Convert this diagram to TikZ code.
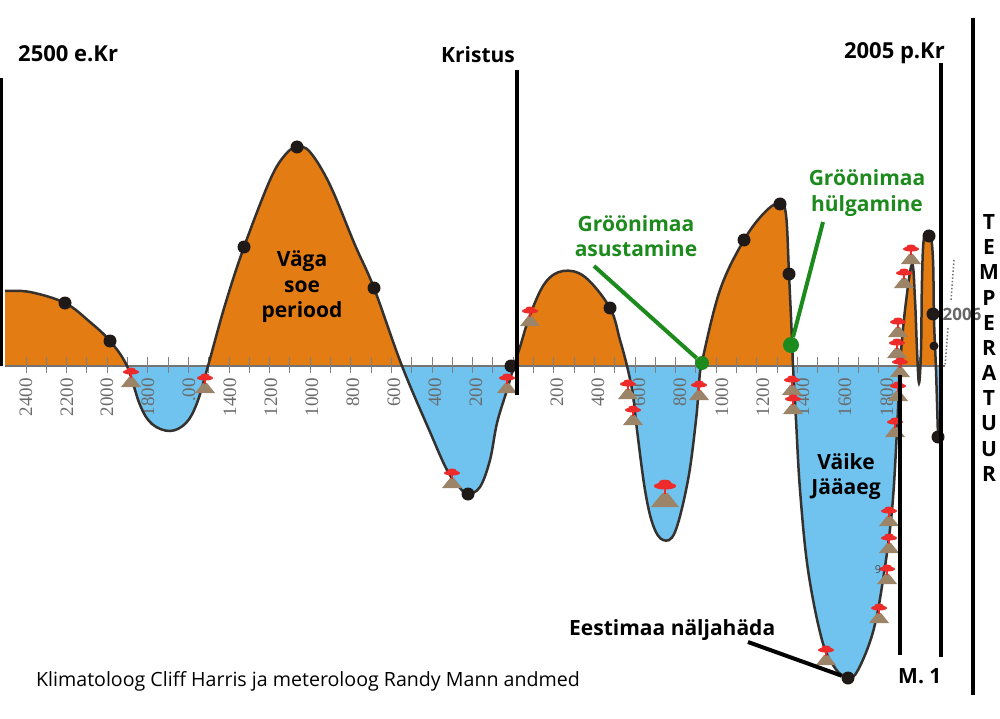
\documentclass[tikz,border=0pt]{standalone}
\usepackage{fontspec}
\setmainfont{Open Sans}
\newfontfamily\scalefont{Liberation Serif}
\definecolor{warmorange}{HTML}{E37C12}
\definecolor{coldblue}{HTML}{6FC3EE}
\definecolor{markgreen}{HTML}{1C8A1C}
\definecolor{cloudred}{HTML}{EE2B2B}
\definecolor{cone}{HTML}{9C8468}
\definecolor{dotblack}{HTML}{1F1A17}
\newcommand{\temppath}[3]{\path[#1] #2 plot[smooth,tension=.6] coordinates {
    (5,291) (30,292) (65,303) (90,322) (110,341) (127,366) (140,405) (152,424) (170,431)
    (186,423) (197,403) (208,366) (225,305) (244,247) (270,180) (285,155) (297,147) (310,152)
    (330,185) (355,245) (374,288) (402,366) (430,432) (447,470) (460,488) (468,494) (480,487) (490,460)
    (497,423) (507,390) (514,366) (520,347) (530,315) (545,283) (563,271) (585,277) (610,308)
    (620,340) (627,366) (633,395) (637,430) (645,490) (653,525) (663,540) (675,532) (688,480)
    (696,420) (699,385) (702,362) (720,290) (744,240) (765,212) (780,203) (786,215) (789,274)
    (792,340) (793,366) (796,420) (800,490) (808,570) (822,640) (835,668) (848,678) (858,670)
    (873,632) (883,580) (892,510) (897,430) (900,366) (905,310) (912,264) (915,300) (917,350)
    (919,383) (921,350) (922,280) (924,238) (930,233) (933,260) (934,320) (936,370) (938,437)} #3;}
\tikzset{
    volcano/.pic={
        \fill[cone] (-10,0) -- (-2,-10) -- (2,-10) -- (10,0) -- cycle;
        \fill[cloudred] (-1,-15) rectangle (1,-9);
        \fill[cloudred] (0,-15) ellipse (8 and 2.5);
        \fill[cloudred] (0,-17.5) ellipse (4.5 and 2);
    },
    bigtext/.style={font=\fontsize{21}{25.5}\selectfont\bfseries,align=center,inner sep=0pt},
    greentext/.style={bigtext,text=markgreen},
    yearlabel/.style={font=\fontsize{19}{19}\selectfont\scalefont,text=black!58,rotate=90,anchor=east,inner sep=0pt},
    blackdot/.style={circle,fill=dotblack,minimum size=13pt,inner sep=0pt},
    greendot/.style={circle,fill=markgreen,inner sep=0pt},
    thickbar/.style={line width=4pt},
    pointer/.style={line width=4pt,markgreen},
}
\begin{document}
\begin{tikzpicture}[x=1pt,y=-1pt]
    \useasboundingbox (0,0) rectangle (1000,719);
    \begin{scope}
        \clip (0,0) rectangle (1000,366);
        \temppath{fill=warmorange}{(5,366) --}{-- (941,366) -- cycle}
    \end{scope}
    \begin{scope}
        \clip (0,366) rectangle (1000,719);
        \temppath{fill=coldblue}{(5,366) --}{-- (941,366) -- cycle}
    \end{scope}
    \draw[black!55,line width=1.5pt] (5,366) -- (945,366);
    \foreach \i in {0,...,45}
        \draw[black!50,line width=1pt] ({26+\i*20.3},357) -- ({26+\i*20.3},373);
    \foreach \x/\lab in {26/2400,67/2200,107/2000,148/1800,189/.00,230/1400,271/1200,312/1000,
        353/800,394/600,435/400,476/200,557/200,598/400,639/600,680/800,722/1000,763/1200,
        803/1400,845/1600,887/1800}
        \node[yearlabel] (year\x) at (\x,378) {\lab};
    \temppath{draw=dotblack!90,line width=2.5pt}{}{}
    \foreach \x/\y/\s in {131/387/1,205/393/1,530/326/1,452/488/1,507/393/1,628/399/1,633/425/1,
        699/400/1,665/507/1.4,792/395/1,793/414/1,911/264/1,904/288/1,898/337/1,897/358/1,
        900/377/1,898/401/1,895/437/1,889/526/1,889/553/1,887/584/1,879/623/1,826/665/1}
        \pic[scale=\s] at (\x,\y) {volcano};
    \foreach \x/\y [count=\i] in {65/303,110/341,244/247,297/147,374/288,468/494,511/366,610/308,
        744/240,780/204,789/274,929/236,933/314,938/437,848/678}
        \node[blackdot] (dot\i) at (\x,\y) {};
    \node[blackdot,minimum size=9pt] (dotsmall) at (934,346) {};
    \draw[black!55,line width=1.5pt,dotted] (954,260) -- (951,300);
    \draw[black!55,line width=1.5pt,dotted] (948,328) -- (945,366);
    \node[font=\fontsize{17}{17}\selectfont\bfseries,text=black!60,inner sep=0pt] (year2006) at (962,314) {2006};
    \node[font=\fontsize{11}{11}\selectfont,text=black!70,inner sep=0pt] (nine) at (878,570) {9};
    \draw[thickbar] (1,78) -- (1,366);
    \draw[thickbar] (517,70) -- (517,395);
    \draw[thickbar] (900,375) -- (900,655);
    \draw[thickbar] (941,63) -- (941,657);
    \draw[thickbar] (973,18) -- (973,695);
    \node[bigtext,anchor=west,font=\fontsize{22}{25}\selectfont\bfseries] (start) at (18,54) {2500 e.Kr};
    \node[bigtext,anchor=west] (kristus) at (441,55) {Kristus};
    \node[bigtext,anchor=east,font=\fontsize{22}{25}\selectfont\bfseries] (now) at (945,53) {2005 p.Kr};
    \node[bigtext] (warm) at (302,287) {Väga\\soe\\periood};
    \node[bigtext] (cold) at (846,476.5) {Väike\\Jääaeg};
    \node[greentext] (settled) at (636,236) {Gröönimaa\\asustamine};
    \node[greentext] (left) at (867,193) {Gröönimaa\\hülgamine};
    \node[bigtext,anchor=west] (famine) at (569,630.5) {Eestimaa näljahäda};
    \node[bigtext,anchor=west] (mone) at (898,676) {M. 1};
    \node[anchor=west,inner sep=0pt,font=\fontsize{19.6}{23}\selectfont] (source) at (36,681) {Klimatoloog Cliff Harris ja meteroloog Randy Mann andmed};
    \foreach \c [count=\i] in {T,E,M,P,E,R,A,T,U,U,R}
        \node[bigtext] (temp\i) at (989,{222+(\i-1)*25.2}) {\c};
    \node[greendot,minimum size=14pt] (settledot) at (702,363) {};
    \node[greendot,minimum size=16pt] (leftdot) at (791,345) {};
    \coordinate (settledend) at (594,266);
    \coordinate (leftend) at (823,222);
    \coordinate (famineend) at (748,642);
    \draw[pointer] (settledend) -- (settledot);
    \draw[pointer] (leftend) -- (leftdot);
    \draw[thickbar] (famineend) -- (dot15);
\end{tikzpicture}
\end{document}
